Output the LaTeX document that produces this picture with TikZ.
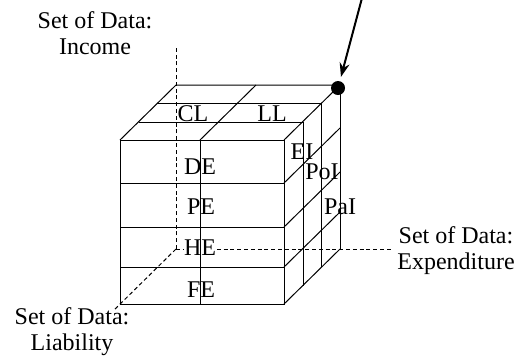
\documentclass[tikz,border=0pt]{standalone}
\usepackage{fontspec}
\setmainfont{Liberation Serif}
\usetikzlibrary{arrows.meta}

\begin{document}
\begin{tikzpicture}[%
      x=0.5pt, y=-0.5pt,
      line width=0.5pt,
      axis/.style={dash pattern=on 2pt off 1.4pt},
      cell/.style={font=\fontsize{12}{13}\selectfont, inner sep=0pt, fill=white},
      setname/.style={font=\fontsize{12}{13}\selectfont, align=center, inner sep=0pt},
      ]
      \useasboundingbox (0,0) rectangle (523,361);

      % axes through the back corner
      \coordinate (origin) at (176,249);
      \coordinate (incend) at (176,46);
      \coordinate (expend) at (392,249);
      \coordinate (liaend) at (113,311);
      \draw [axis] (origin) -- (incend);
      \draw [axis] (origin) -- (expend);
      \draw [axis] (origin) -- (liaend);

      % cell labels
      \node [cell] (cl) at (193,114) {CL};
      \node [cell] (ll) at (272,114) {LL};
      \node [cell] (de) at (200,167) {DE};
      \node [cell] (pe) at (201,207) {PE};
      \node [cell] (he) at (200,248) {HE};
      \node [cell] (fe) at (201,290) {FE};
      \node [cell] (ei) at (302,152) {EI};
      \node [cell] (poi) at (322,172) {PoI};
      \node [cell] (pai) at (340,207) {PaI};

      % front face
      \draw (120,140) rectangle (284,304);
      \draw (200,140) -- (200,304);
      \foreach \y in {183,227,267}
        \draw (120,\y) -- (284,\y);

      % top face
      \draw (120,140) -- ++(56,-55) -- (340,85) -- (284,140);
      \draw (200,140) -- ++(56,-55);
      \draw (139,122) -- (303,122);
      \draw (157,103) -- (321,103);

      % right face
      \draw (303,122) -- (303,286);
      \draw (321,103) -- (321,267);
      \draw (340,85) -- (340,249);
      \foreach \y in {183,227,267,304}
        \draw (284,\y) -- ++(56,-55);

      % marked corner
      \node [circle, fill=black, inner sep=0pt, minimum size=7pt] (corner) at (338,88) {};
      \coordinate (pointer) at (362,-2);
      \draw [line width=1pt, -{Stealth[length=7pt,width=5pt]}, shorten >=2pt] (pointer) -- (corner);

      % names of the three sets
      \node [setname] (income) at (95,33) {Set of Data:\\Income};
      \node [setname] (expense) at (456,251) {Set of Data:\\Expenditure};
      \node [setname] (liability) at (72,332) {Set of Data:\\Liability};
\end{tikzpicture}
\end{document}
